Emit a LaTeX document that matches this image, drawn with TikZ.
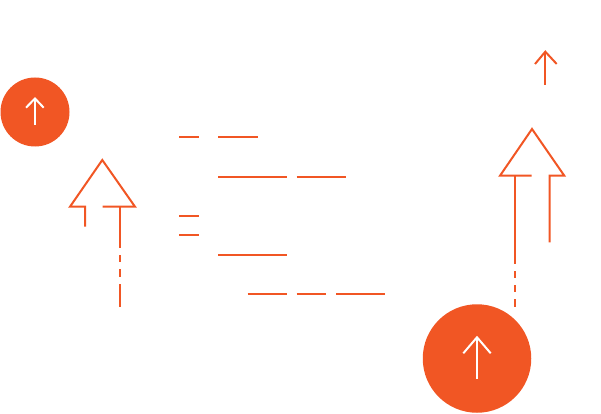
\documentclass[tikz,border=0pt]{standalone}
\definecolor{brand}{RGB}{241,86,36}
\tikzset{
  ln/.style={draw=brand,line width=2pt},
  icon/.style={draw=white,line width=2pt},
  disc/.style={circle,fill=brand,inner sep=0pt}
}
\begin{document}
\begin{tikzpicture}[x=1pt,y=-1pt]
\useasboundingbox (0,0) rectangle (601,414);
% discs
\node[disc,minimum size=69pt] (c1) at (35,112) {};
\node[disc,minimum size=108.5pt] (c2) at (477,358.5) {};
% white icons
\draw[icon] (c1.center) ++(0,-13.5) coordinate (c1t) -- ++(0,26.5);
\draw[icon] (26,107.7) -- (c1t) -- (43.7,107.7);
\draw[icon] (477,337.3) coordinate (c2t) -- (477,379.3);
\draw[icon] (463.3,353.3) -- (c2t) -- (490.7,353.3);
% left big arrow
\draw[ln] (85,226.7) -- (85,206.7) -- (70,206.7) -- (102.3,160) -- (135,206.7) -- (102.7,206.7);
\draw[ln] (120.3,206.7) -- (120.3,248.3);
\draw[ln] (120.3,255) -- (120.3,262.3);
\draw[ln] (120.3,269.3) -- (120.3,276.7);
\draw[ln] (120.3,284) -- (120.3,306.7);
% right big arrow
\draw[ln] (531.7,175.7) -- (500,175.7) -- (532,129) -- (564.3,175.7) -- (549.7,175.7) -- (549.7,242.3);
\draw[ln] (514.5,175.7) -- (514.5,264);
\draw[ln] (514.5,271) -- (514.5,278.3);
\draw[ln] (514.5,285) -- (514.5,292.3);
\draw[ln] (514.5,299.3) -- (514.5,306.7);
% small arrow
\draw[ln] (535,64) -- (545.3,51.7) -- (556.7,64);
\draw[ln] (545.3,51.7) -- (545.3,85);
% text lines
\draw[ln] (179,137.3) -- (199,137.3);
\draw[ln] (218.3,137.3) -- (257.7,137.3);
\draw[ln] (218.3,176.7) -- (286.7,176.7);
\draw[ln] (296.7,176.7) -- (345.7,176.7);
\draw[ln] (179,216) -- (199,216);
\draw[ln] (179,235.3) -- (199,235.3);
\draw[ln] (218.3,255) -- (286.7,255);
\draw[ln] (247.7,294) -- (286.7,294);
\draw[ln] (296.7,294) -- (326,294);
\draw[ln] (336,294) -- (385,294);
\end{tikzpicture}
\end{document}
